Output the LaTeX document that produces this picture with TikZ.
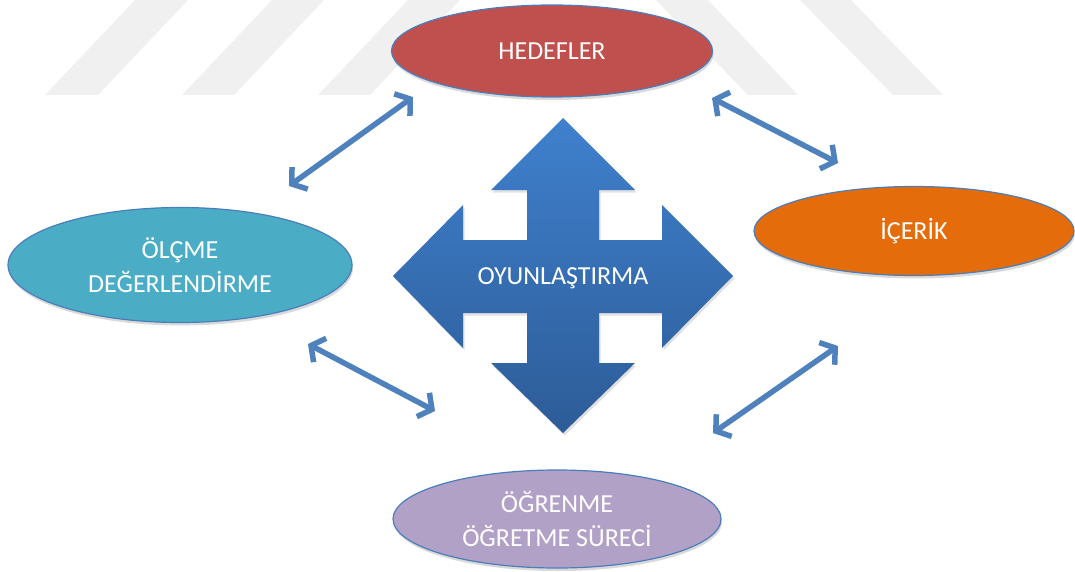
\documentclass[tikz,border=0pt]{standalone}
\usepackage{fontspec}
\setmainfont{Carlito}
\usetikzlibrary{shapes.geometric,arrows.meta,shadows}

\definecolor{linkblue}{HTML}{4F81BD}
\definecolor{rimblue}{HTML}{4A7EBB}
\definecolor{goalred}{HTML}{C0504D}
\definecolor{contentorange}{HTML}{E46C0A}
\definecolor{evalteal}{HTML}{4BACC6}
\definecolor{processlilac}{HTML}{B2A1C7}
\definecolor{crosstop}{HTML}{3F80CD}
\definecolor{crossbottom}{HTML}{2D5C97}
\definecolor{stripegray}{HTML}{F0F0F0}

\tikzset{
  topic/.style={ellipse, draw=rimblue, line width=1.2pt, inner sep=0pt,
    text=white, align=center, font=\fontsize{26}{34}\selectfont,
    drop shadow={shadow xshift=1pt, shadow yshift=-3pt, opacity=0.15, fill=black}},
  link/.style={draw=linkblue, line width=5.5pt,
    {Straight Barb[length=10pt,width=27pt]}-{Straight Barb[length=10pt,width=27pt]}},
  stripe/.style={fill=stripegray, draw=none},
}

\begin{document}
\begin{tikzpicture}[x=1pt, y=-1pt]
\useasboundingbox (0,0) rectangle (1075,572);

% faint diagonal background stripes
\fill[stripe] (45,95) -- (98,95) -- (188,0) -- (135,0) -- cycle;
\fill[stripe] (182,95) -- (234,95) -- (324,0) -- (272,0) -- cycle;
\fill[stripe] (318,95) -- (370,95) -- (460,0) -- (408,0) -- cycle;
\fill[stripe] (748,95) -- (798,95) -- (708,0) -- (656,0) -- cycle;
\fill[stripe] (893,95) -- (943,95) -- (851,0) -- (800,0) -- cycle;

% central four-way arrow
\fill[black, opacity=0.12, xshift=1.5pt, yshift=-2.5pt]
  (563,118) -- (635,190) -- (599,190) -- (599,240) -- (662,240) -- (662,205)
  -- (733,276) -- (662,348) -- (662,313) -- (599,313) -- (599,363) -- (635,363)
  -- (563,433) -- (491,363) -- (527,363) -- (527,313) -- (463,313) -- (463,348)
  -- (393,276) -- (463,205) -- (463,240) -- (527,240) -- (527,190) -- (491,190) -- cycle;
\shade[top color=crosstop, bottom color=crossbottom]
  (563,118) -- (635,190) -- (599,190) -- (599,240) -- (662,240) -- (662,205)
  -- (733,276) -- (662,348) -- (662,313) -- (599,313) -- (599,363) -- (635,363)
  -- (563,433) -- (491,363) -- (527,363) -- (527,313) -- (463,313) -- (463,348)
  -- (393,276) -- (463,205) -- (463,240) -- (527,240) -- (527,190) -- (491,190) -- cycle;
\node[text=white, font=\fontsize{26}{30}\selectfont] (core) at (563,278) {OYUNLAŞTIRMA};

% surrounding topics
\node[topic, fill=goalred, minimum width=321pt, minimum height=92pt] (goals) at (552,51) {HEDEFLER};
\node[topic, fill=contentorange, minimum width=320pt, minimum height=89pt] (content) at (914,231) {İÇERİK};
\node[topic, fill=evalteal, minimum width=344pt, minimum height=115pt] (eval) at (180,265) {ÖLÇME\\DEĞERLENDİRME};
\node[topic, fill=processlilac, minimum width=328pt, minimum height=98pt] (process) at (557,519) {ÖĞRENME\\ÖĞRETME SÜRECİ};

% connector end points
\coordinate (evalTop) at (289,186);
\coordinate (goalsLeft) at (413,97);
\coordinate (goalsRight) at (712,98);
\coordinate (contentTop) at (838,163);
\coordinate (evalBottom) at (308,344);
\coordinate (processLeft) at (435,411);
\coordinate (contentBottom) at (838,346);
\coordinate (processRight) at (713,433);

% two-way links between topics
\draw[link] (evalTop) -- (goalsLeft);
\draw[link] (goalsRight) -- (contentTop);
\draw[link] (evalBottom) -- (processLeft);
\draw[link] (contentBottom) -- (processRight);
\end{tikzpicture}
\end{document}
